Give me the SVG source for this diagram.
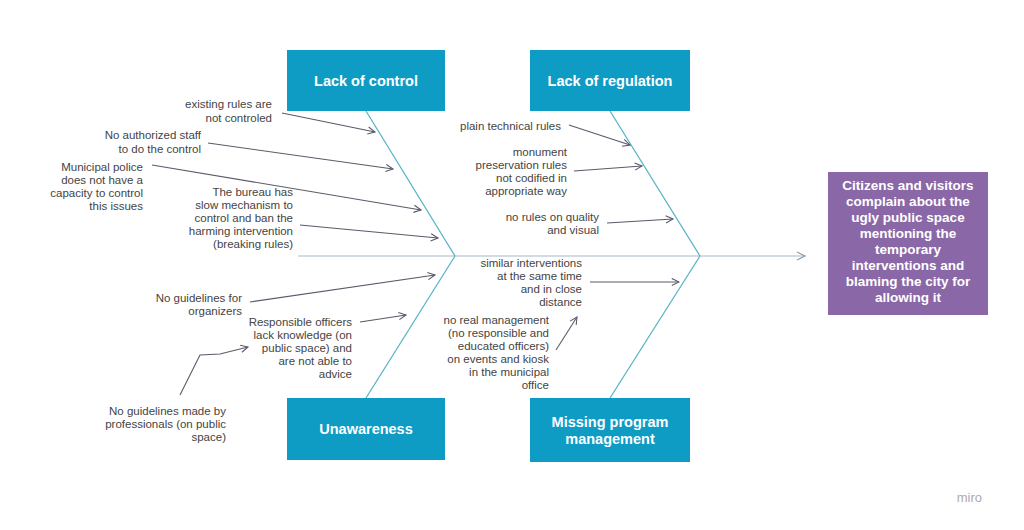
<svg xmlns="http://www.w3.org/2000/svg" width="1024" height="530" viewBox="0 0 1024 530">
<defs>
<style>
.t{font-family:"Liberation Sans",Arial,sans-serif;font-size:11.5px;fill:#444;text-anchor:end}
.h{font-family:"Liberation Sans",Arial,sans-serif;font-size:14.5px;font-weight:bold;fill:#fff;text-anchor:middle}
.e{font-family:"Liberation Sans",Arial,sans-serif;font-size:13.5px;font-weight:bold;fill:#fff;text-anchor:middle}
.b{fill:#0e9bc4}
.bone{stroke:#5ab4c8;stroke-width:1.3;fill:none}
.a{stroke:#5a5a6a;stroke-width:1.1;fill:none;marker-end:url(#m)}
</style>
<marker id="m" viewBox="0 0 10 10" refX="9" refY="5" markerWidth="9" markerHeight="9" orient="auto" markerUnits="userSpaceOnUse"><path d="M1,1 L9,5 L1,9" fill="none" stroke="#5a5a6a" stroke-width="1.2"/></marker>
<marker id="ms" viewBox="0 0 10 10" refX="9" refY="5" markerWidth="10" markerHeight="10" orient="auto" markerUnits="userSpaceOnUse"><path d="M1,1 L9,5 L1,9" fill="none" stroke="#8fa0b0" stroke-width="1.2"/></marker>
</defs>
<rect width="1024" height="530" fill="#fff"/>
<g id="connectors">
<line x1="298" y1="256" x2="805" y2="256" stroke="#a8b8c8" stroke-width="1.2" marker-end="url(#ms)"/>
<path class="bone" d="M366,111 L455,256 M610,111 L700,256 M366,398 L455,256 M610,398 L700,256"/>
<path class="a" d="M282,113 L375,132"/>
<path class="a" d="M208,143 L393,169"/>
<path class="a" d="M152,165 L421,210"/>
<path class="a" d="M300,225 L438,238"/>
<path class="a" d="M250,302 L435,275"/>
<path class="a" d="M360,322 L406,315"/>
<path class="a" d="M180,395 L200,355 L220,354 L248,347"/>
<path class="a" d="M569,125 L630,145"/>
<path class="a" d="M574,171 L642,166"/>
<path class="a" d="M607,223 L673,219"/>
<path class="a" d="M590,282 L679,282"/>
<path class="a" d="M556,350 L577,317"/>
</g>
<g id="lack-control"><rect class="b" x="287" y="50" width="158" height="61"/><text class="h" x="366" y="86">Lack of control</text></g>
<g id="lack-regulation"><rect class="b" x="530" y="50" width="160" height="61"/><text class="h" x="610" y="86">Lack of regulation</text></g>
<g id="unawareness"><rect class="b" x="287" y="398" width="158" height="62"/><text class="h" x="366" y="434">Unawareness</text></g>
<g id="missing-program"><rect class="b" x="530" y="398" width="160" height="64"/><text class="h" x="610" y="427">Missing program</text><text class="h" x="610" y="444">management</text></g>
<g id="effect"><rect x="828" y="172" width="160" height="143" fill="#8a68a8"/>
<text class="e"><tspan x="908" y="190">Citizens and visitors</tspan><tspan x="908" y="206">complain about the</tspan><tspan x="908" y="222">ugly public space</tspan><tspan x="908" y="238">mentioning the</tspan><tspan x="908" y="254">temporary</tspan><tspan x="908" y="270">interventions and</tspan><tspan x="908" y="286">blaming the city for</tspan><tspan x="908" y="302">allowing it</tspan></text></g>
<g id="causes">
<text class="t"><tspan x="272" y="108">existing rules are</tspan><tspan x="272" y="122">not controled</tspan></text>
<text class="t"><tspan x="201" y="139">No authorized staff</tspan><tspan x="201" y="153">to do the control</tspan></text>
<text class="t"><tspan x="143" y="171">Municipal police</tspan><tspan x="143" y="184">does not have a</tspan><tspan x="143" y="197">capacity to control</tspan><tspan x="143" y="210">this issues</tspan></text>
<text class="t"><tspan x="293" y="196">The bureau has</tspan><tspan x="293" y="209">slow mechanism to</tspan><tspan x="293" y="222">control and ban the</tspan><tspan x="293" y="235">harming intervention</tspan><tspan x="293" y="248">(breaking rules)</tspan></text>
<text class="t"><tspan x="242" y="302">No guidelines for</tspan><tspan x="242" y="315">organizers</tspan></text>
<text class="t"><tspan x="352" y="326">Responsible officers</tspan><tspan x="352" y="339">lack knowledge (on</tspan><tspan x="352" y="352">public space) and</tspan><tspan x="352" y="365">are not able to</tspan><tspan x="352" y="378">advice</tspan></text>
<text class="t"><tspan x="226" y="415">No guidelines made by</tspan><tspan x="226" y="428">professionals (on public</tspan><tspan x="226" y="441">space)</tspan></text>
<text class="t"><tspan x="561" y="130">plain technical rules</tspan></text>
<text class="t"><tspan x="567" y="156">monument</tspan><tspan x="567" y="169">preservation rules</tspan><tspan x="567" y="182">not codified in</tspan><tspan x="567" y="195">appropriate way</tspan></text>
<text class="t"><tspan x="599" y="221">no rules on quality</tspan><tspan x="599" y="234">and visual</tspan></text>
<text class="t"><tspan x="582" y="267">similar interventions</tspan><tspan x="582" y="280">at the same time</tspan><tspan x="582" y="293">and in close</tspan><tspan x="582" y="306">distance</tspan></text>
<text class="t"><tspan x="549" y="324">no real management</tspan><tspan x="549" y="337">(no responsible and</tspan><tspan x="549" y="350">educated officers)</tspan><tspan x="549" y="363">on events and kiosk</tspan><tspan x="549" y="376">in the municipal</tspan><tspan x="549" y="389">office</tspan></text>
</g>
<text x="982" y="502" font-family="Liberation Sans,Arial,sans-serif" font-size="13" fill="#aaa" text-anchor="end">miro</text>
</svg>
